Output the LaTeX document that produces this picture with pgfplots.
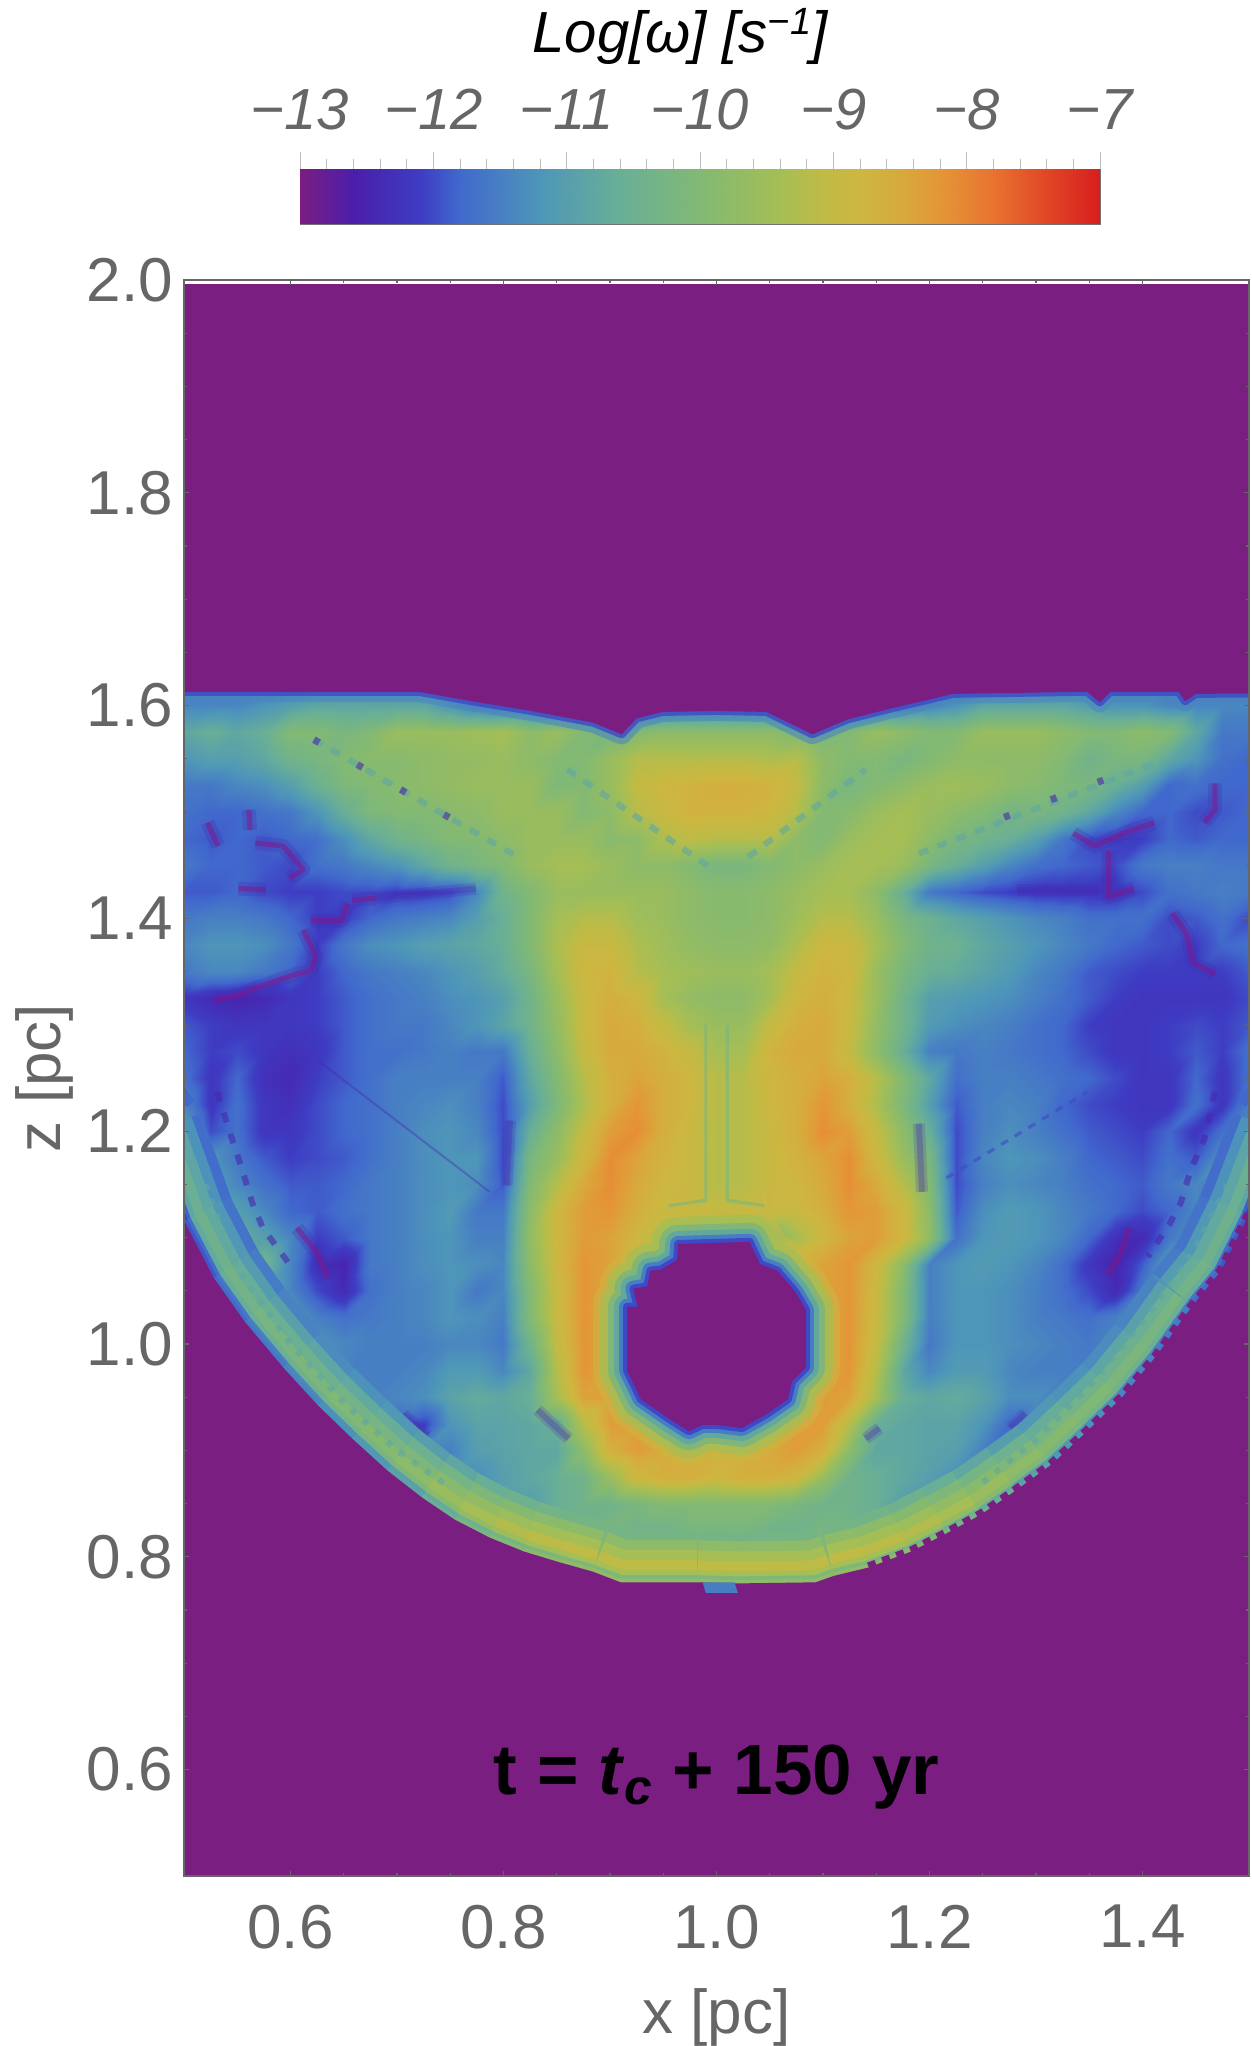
\documentclass[border=0pt]{standalone}
\usepackage{fontspec}
\setmainfont{Liberation Sans}
\usepackage{pgfplots}
\usepackage{pgfplotstable}
\pgfplotsset{compat=1.18}
\definecolor{bg}{RGB}{122,30,130}
\definecolor{streak}{RGB}{135,20,135}
\definecolor{indi}{RGB}{72,40,175}
\definecolor{tickgray}{gray}{0.4}
\definecolor{v9}{RGB}{62,60,195}
\definecolor{v10}{RGB}{63,72,198}
\definecolor{v14}{RGB}{71,125,195}
\definecolor{v16}{RGB}{75,135,190}
\definecolor{v22}{RGB}{96,167,162}
\definecolor{v28}{RGB}{122,182,127}
\definecolor{v36}{RGB}{165,190,85}
\definecolor{v41}{RGB}{200,185,67}

% Log w, stored as 10*(Log w + 13), 0 = -13 and 60 = -7
% one line per z, x = 0.5, 0.525, ... 1.5
\def\coords{}
\newcommand\R[2]{\foreach \v [count=\i from 0] in {#2} {%
  \pgfmathsetmacro\x{0.5+0.025*\i}\xdef\coords{\coords (\x,#1) [\v]}}}
\R{1.625}{12,12,12,12,12,12,12,12,12,12,12,12,12,12,12,12,12,12,12,12,12,12,12,12,12,12,12,12,12,12,12,12,12,12,12,12,12,12,12,12,12}
\R{1.6}{16,16,16,18,20,22,22,22,22,22,18,14,12,12,12,12,12,12,12,12,12,12,12,12,12,12,12,14,16,18,22,22,22,22,20,18,18,16,16,16,16}
\R{1.575}{22,24,22,24,30,30,28,30,34,34,34,35,36,32,34,30,28,30,32,32,32,32,32,30,28,30,34,32,30,30,34,34,34,32,30,30,32,30,22,14,14}
\R{1.55}{18,20,20,22,26,28,30,31,31,32,33,33,34,32,30,30,34,38,38,38,38,38,37,38,32,30,30,28,30,32,32,32,32,30,26,28,28,22,18,13,12}
\R{1.525}{14,14,16,17,20,25,29,30,31,32,33,34,34,34,29,30,34,40,42,43,44,44,43,40,32,28,30,32,34,35,34,32,31,29,28,24,20,12,13,12,12}
\R{1.5}{13,12,12,13,14,18,24,29,30,30,31,32,34,34,34,30,32,38,41,43,43,43,42,38,30,31,34,36,34,32,30,27,28,26,22,16,12,12,10,11,12}
\R{1.475}{12,11,12,11,12,13,17,22,26,28,30,30,32,34,34,34,31,32,37,39,38,38,38,32,30,34,36,36,32,28,26,24,20,14,10,9,9,12,11,12,12}
\R{1.45}{14,12,12,11,10,13,14,16,18,22,26,28,30,34,36,36,34,32,32,30,28,28,30,32,34,36,36,34,28,24,20,16,13,12,11,10,14,15,15,14,14}
\R{1.425}{11,11,12,10,9,9,10,10,9,9,10,16,26,30,34,34,34,34,34,32,31,31,32,34,36,36,32,24,14,12,10,9,8,8,8,8,10,13,14,15,14}
\R{1.4}{14,15,15,14,12,9,9,12,14,15,16,20,24,30,36,38,38,35,34,32,31,31,32,35,38,38,34,28,25,22,20,18,16,15,13,13,13,10,11,13,10}
\R{1.375}{16,18,18,17,14,9,14,17,18,20,21,22,24,30,37,41,41,37,35,33,32,32,33,37,42,41,36,30,26,25,22,20,18,16,14,12,11,10,9,12,13}
\R{1.35}{14,16,16,14,12,9,12,14,15,16,18,20,23,28,36,42,43,38,36,35,34,34,36,40,43,42,34,28,24,23,21,19,16,14,11,10,9,9,9,9,11}
\R{1.325}{8,6,5,6,8,9,11,13,14,15,17,18,20,26,34,41,44,42,36,33,32,32,36,42,44,41,34,26,20,19,18,17,15,13,11,9,8,8,8,8,10}
\R{1.3}{11,9,8,8,8,9,11,13,14,14,16,18,21,26,33,41,45,44,40,36,34,34,40,44,45,41,33,26,19,17,16,15,13,12,9,8,8,9,10,9,11}
\R{1.275}{12,9,10,8,7,8,11,13,13,14,15,14,14,24,32,40,45,45,43,40,36,36,43,45,45,40,32,24,15,14,15,14,13,12,10,8,8,9,11,9,13}
\R{1.25}{13,8,12,7,6,9,11,13,15,15,15,15,11,22,30,38,44,46,44,42,38,38,42,44,46,44,38,30,22,13,15,15,14,13,12,10,8,8,12,8,13}
\R{1.225}{16,8,13,8,7,10,12,13,15,16,17,15,10,20,29,37,44,48,44,42,38,38,42,44,48,44,37,29,20,11,15,16,15,12,10,9,8,8,13,8,15}
\R{1.2}{20,10,13,8,8,10,12,13,15,17,18,16,10,24,32,40,47,49,44,41,38,38,41,44,49,47,40,32,24,10,15,17,15,13,11,10,9,12,8,13,16}
\R{1.175}{22,18,14,11,9,10,11,13,15,17,18,18,10,28,34,42,49,46,43,41,38,38,41,43,46,49,42,34,28,10,16,18,17,15,12,11,10,13,11,18,16}
\R{1.15}{24,20,16,13,11,11,12,14,15,17,18,17,11,30,38,45,49,45,42,41,38,38,41,42,45,49,45,38,30,10,15,17,16,15,13,12,11,14,16,14,22}
\R{1.125}{26,22,20,16,12,11,13,14,15,17,19,14,14,32,42,47,48,44,41,41,40,40,41,41,44,48,47,42,32,11,17,19,18,16,14,12,10,12,16,22,24}
\R{1.1}{22,24,24,20,16,9,11,14,15,17,18,15,15,33,42,47,46,42,36,30,28,28,30,36,42,46,47,42,33,13,18,19,18,16,12,7,6,14,18,24,20}
\R{1.075}{14,12,24,26,16,7,5,14,15,17,18,17,16,32,42,48,46,44,44,44,44,44,44,44,46,48,42,32,15,18,19,18,16,13,8,5,11,20,20,14,12}
\R{1.05}{12,10,16,22,16,10,6,13,15,16,18,14,16,30,41,48,46,44,44,44,44,44,44,44,46,48,41,30,15,18,18,17,15,13,10,6,14,20,18,12,12}
\R{1.025}{12,12,14,18,20,15,13,14,15,16,18,17,15,30,41,48,46,44,44,44,44,44,44,44,46,48,41,30,15,18,18,17,15,14,13,15,18,16,14,12,12}
\R{1.0}{12,12,14,15,18,18,16,15,15,15,16,16,14,26,40,48,46,44,44,44,44,44,44,44,46,48,40,26,14,18,18,17,16,15,14,16,16,14,12,12,12}
\R{0.975}{12,12,12,14,15,16,15,15,15,16,19,19,16,22,38,48,46,44,44,44,44,44,44,44,46,48,38,22,16,19,19,16,15,15,15,15,14,12,12,12,12}
\R{0.95}{12,12,12,12,14,14,14,15,16,17,21,23,22,24,36,46,47,44,44,44,44,44,44,44,47,46,36,24,22,23,21,17,17,15,14,14,12,12,12,12,12}
\R{0.925}{12,12,12,12,12,12,14,15,12,9,18,21,21,22,24,38,47,47,44,44,44,44,44,47,47,38,24,22,21,21,18,12,15,14,12,12,12,12,12,12,12}
\R{0.9}{12,12,12,12,12,12,12,14,14,16,15,20,21,22,22,32,44,47,45,44,44,44,45,47,44,32,22,22,21,20,15,14,14,12,12,12,12,12,12,12,12}
\R{0.875}{14,14,14,14,14,14,14,14,14,14,16,17,20,22,24,26,34,42,44,44,42,44,44,42,34,26,24,22,20,17,16,14,14,14,14,14,14,14,14,14,14}
\R{0.85}{16,16,16,16,16,16,16,16,16,16,18,18,20,20,24,26,26,28,30,30,30,30,30,28,26,26,24,20,20,18,18,16,16,16,16,16,16,16,16,16,16}
\R{0.825}{24,24,24,24,24,24,24,24,24,24,24,24,24,24,24,26,28,26,26,28,28,28,26,26,28,26,24,24,24,24,24,24,24,24,24,24,24,24,24,24,24}
\R{0.8}{30,30,30,30,30,30,30,30,30,30,30,30,30,30,30,30,30,30,30,30,30,30,30,30,30,30,30,30,30,30,30,30,30,30,30,30,30,30,30,30,30}
\R{0.775}{30,30,30,30,30,30,30,30,30,30,30,30,30,30,30,30,30,30,30,30,30,30,30,30,30,30,30,30,30,30,30,30,30,30,30,30,30,30,30,30,30}
\newcommand\drawmesh[1]{\addplot[surf,shader=interp,mesh/cols=41,point meta=explicit,forget plot] coordinates {#1};}

% upper edge of the region
\pgfplotstableread{
x y
.4 2.1
.4 1.613
.72 1.613
.771 1.604
.826 1.595
.884 1.584
.911 1.573
.925 1.588
.949 1.594
1.0 1.595
1.047 1.594
1.09 1.573
1.123 1.587
1.167 1.598
1.222 1.611
1.348 1.613
1.36 1.603
1.37 1.613
1.434 1.613
1.44 1.604
1.45 1.611
1.6 1.612
1.6 2.1
}\topT
% lower edge, b = level of the shell behind it
\pgfplotstableread{
x y b
.4 .4 24
.4 1.3 24
.47 1.2 24
.5 1.116 25
.528 1.062 26
.557 1.021 27
.593 .978 28
.626 .942 29
.658 .911 30
.691 .881 31
.723 .856 33
.754 .835 35
.787 .818 37
.819 .805 38
.852 .795 39
.884 .786 39
.91 .776 39
.982 .776 39
1.021 .775 39
1.093 .776 39
1.11 .782 39
1.143 .79 39
1.183 .805 38
1.216 .822 37
1.249 .84 35
1.282 .863 33
1.315 .887 31
1.348 .918 30
1.381 .95 29
1.414 .99 28
1.447 1.036 27
1.474 1.069 26
1.5 1.122 25
1.53 1.2 24
1.6 1.3 24
1.6 .4 24
}\botT
\pgfplotstableread{
x y
1.143 .79
1.183 .805
1.216 .822
1.249 .84
1.282 .863
1.315 .887
1.348 .918
1.381 .95
1.414 .99
1.447 1.036
1.474 1.069
1.5 1.122
}\teethT
\pgfplotstableread{
x y
.916 1.005
.916 1.035
.926 1.035
.922 1.052
.935 1.054
.938 1.069
.948 1.070
.963 1.079
.964 1.094
1.031 1.096
1.041 1.075
1.057 1.069
1.074 1.049
1.084 1.032
1.084 .978
1.071 .965
1.067 .948
1.047 .934
1.024 .921
1.0 .924
.987 .924
.974 .918
.958 .928
.929 .948
.916 .975
}\holeT

\pgfplotsset{
  rb/.style={colormap={rainbow}{rgb255(0)=(122,30,130) rgb255(4)=(75,30,170) rgb255(9)=(62,60,195)
    rgb255(12)=(65,105,205) rgb255(18)=(78,150,185) rgb255(24)=(105,175,150) rgb255(30)=(130,185,115)
    rgb255(36)=(165,190,85) rgb255(39)=(190,187,70) rgb255(42)=(205,183,65) rgb255(45)=(215,170,60)
    rgb255(48)=(228,150,55) rgb255(52)=(232,115,48) rgb255(56)=(225,70,38) rgb255(60)=(215,30,30)}},
  sp/.style={line width=2.6pt,color=streak,opacity=.5,line join=round,forget plot},
  ib/.style={line width=3pt,color=indi,opacity=.3,line join=round,forget plot},
  halo/.style={line width=7pt,color=indi,opacity=.25,line join=round,forget plot},
  shell/.style={mesh,forget plot,line width=#1},
  ring/.style 2 args={draw=#2,fill=none,line width=#1,line join=round,forget plot},
  dots/.style={line width=3pt,color=#1,opacity=.6,forget plot},
}
\newcommand\Sp[1]{\addplot[halo] coordinates {#1};\addplot[sp] coordinates {#1};}
\newcommand\Ib[1]{\addplot[halo,line width=6pt,opacity=.2] coordinates {#1};\addplot[ib] coordinates {#1};}

\begin{document}
\begin{tikzpicture}
\useasboundingbox (0,0) rectangle (626pt,1023pt);

% colour bar
\begin{axis}[
  at={(150pt,911pt)},anchor=south west,scale only axis,width=400pt,height=27.5pt,
  rb,xmin=-13,xmax=-7,ymin=0,ymax=1,
  xtick={-13,...,-7},xticklabels={−13,−12,−11,−10,−9,−8,−7},
  minor x tick num=4,ytick=\empty,
  xtick pos=upper,xticklabel pos=upper,tick align=outside,
  major tick length=8.5pt,minor tick length=5pt,
  tick style={black!25,line width=.4pt},
  axis line style={black!55,line width=.4pt},
  xticklabel style={font=\fontsize{29}{29}\selectfont\itshape,text=tickgray,yshift=7.5pt},
]
\addplot[surf,shader=interp,mesh/cols=2,point meta=x] coordinates {(-13,0) (-7,0) (-13,1) (-7,1)};
\end{axis}
\node[anchor=base,font=\fontsize{29}{29}\selectfont\itshape] at (340pt,996.5pt) {Log[ω] [s\raisebox{9pt}{\fontsize{19}{19}\selectfont −1}]};

% main map
\begin{axis}[
  at={(92pt,85pt)},anchor=south west,scale only axis,width=532.5pt,height=798pt,
  rb,point meta min=0,point meta max=60,
  xmin=0.5,xmax=1.5,ymin=0.5,ymax=2.0,
  xtick={0.6,0.8,1.0,1.2,1.4},ytick={0.6,0.8,1.0,1.2,1.4,1.6,1.8,2.0},
  minor tick num=3,tick align=inside,tick pos=both,
  major tick length=2.5pt,minor tick length=1.4pt,
  tick style={tickgray,line width=.6pt},axis line style={tickgray,line width=.9pt},
  axis on top,
  /pgf/number format/fixed,/pgf/number format/fixed zerofill,/pgf/number format/precision=1,
  /pgf/number format/assume math mode=true,
  ticklabel style={font=\fontsize{31}{31}\selectfont,text=tickgray},
  xticklabel style={yshift=-11pt},yticklabel style={xshift=-2pt},
  label style={font=\fontsize{31}{31}\selectfont,text=tickgray},
  xlabel={x [pc]},ylabel={z [pc]},
  xlabel style={yshift=-13pt},ylabel style={yshift=0pt},
]
\addplot[fill=bg,draw=none,forget plot] coordinates {(0.4,0.4) (1.6,0.4) (1.6,2.1) (0.4,2.1)} -- cycle;
\expandafter\drawmesh\expandafter{\coords}

% dashed streaks of the wings
\addplot[dots=v22,dash pattern=on 5pt off 5pt] coordinates {(.622,1.568) (.813,1.458)};
\addplot[dots=v22,dash pattern=on 5pt off 5pt] coordinates {(.86,1.54) (.997,1.446)};
\addplot[dots=v22,dash pattern=on 5pt off 5pt] coordinates {(1.03,1.458) (1.14,1.54)};
\addplot[dots=v22,dash pattern=on 5pt off 5pt] coordinates {(1.19,1.461) (1.42,1.549)};
\addplot[dots=indi,dash pattern=on 3pt off 22pt,line width=3.5pt] coordinates {(.622,1.568) (.761,1.488)};
\addplot[dots=indi,dash pattern=on 3pt off 22pt,line width=3.5pt] coordinates {(1.27,1.495) (1.39,1.54)};
% thin lines round the centre
\addplot[dots=v28,line width=1.6pt] coordinates {(.99,1.30) (.99,1.135) (.955,1.13)};
\addplot[dots=v28,line width=1.6pt] coordinates {(1.01,1.30) (1.01,1.135) (1.045,1.13)};

% thin dark structures on top of the field
\Sp{(.567,1.471) (.593,1.468) (.612,1.446) (.599,1.438)}
\Sp{(.551,1.428) (.577,1.427)}
\Sp{(.658,1.417) (.680,1.419)}
\Sp{(.619,1.398) (.648,1.398) (.654,1.414)}
\Sp{(.612,1.389) (.624,1.364) (.619,1.351) (.603,1.347) (.580,1.339) (.551,1.328) (.528,1.323)}
\Sp{(.522,1.490) (.532,1.468)}
\Sp{(.561,1.502) (.562,1.483)}
\Sp{(1.335,1.480) (1.355,1.468) (1.382,1.480) (1.411,1.490)}
\Sp{(1.368,1.464) (1.368,1.420) (1.392,1.428)}
\Sp{(1.428,1.405) (1.441,1.386) (1.448,1.358) (1.468,1.348)}
\Sp{(1.468,1.527) (1.468,1.502) (1.458,1.490)}
\Sp{(1.388,1.109) (1.378,1.082) (1.367,1.065)}
\Sp{(.606,1.109) (.625,1.086) (.635,1.062)}
\Ib{(.680,1.419) (.774,1.428)}
\Ib{(1.282,1.427) (1.359,1.427)}
\Ib{(.806,1.210) (.803,1.149)}
\Ib{(1.190,1.207) (1.193,1.143)}
\Ib{(.706,.934) (.729,.914)}
\Ib{(.832,.938) (.861,.911)}
\Ib{(1.14,.911) (1.153,.921)}
\Ib{(1.276,.921) (1.29,.935)}
\addplot[ib,line width=1pt,opacity=.4] coordinates {(.625,1.267) (.787,1.143)};
\addplot[dots=v10,line width=1.6pt,dash pattern=on 4pt off 4pt] coordinates {(1.216,1.156) (1.348,1.237)};

% hole: rim rings round the outline, then the hole itself
\addplot[ring={34pt}{v41},opacity=.5] table {\holeT} -- cycle;
\addplot[ring={27pt}{v36},opacity=.8] table {\holeT} -- cycle;
\addplot[ring={19pt}{v28},opacity=.85] table {\holeT} -- cycle;
\addplot[ring={13pt}{v22},opacity=.9] table {\holeT} -- cycle;
\addplot[ring={8pt}{v14}] table {\holeT} -- cycle;
\addplot[ring={4pt}{v10}] table {\holeT} -- cycle;
\addplot[fill=bg,draw=none,forget plot] table {\holeT} -- cycle;

% shell along the lower edge, coloured by b
\addplot[shell=52pt,point meta=\thisrow{b}-12] table[x=x,y=y] {\botT};
\addplot[shell=42pt,point meta=\thisrow{b}-7] table[x=x,y=y] {\botT};
\addplot[shell=32pt,point meta=\thisrow{b}-3] table[x=x,y=y] {\botT};
\addplot[shell=22pt,point meta=\thisrow{b}] table[x=x,y=y] {\botT};
\addplot[shell=12pt,point meta=\thisrow{b}-3] table[x=x,y=y] {\botT};
\addplot[dots=v22,dash pattern=on 3pt off 5pt] coordinates {(.52,1.15) (.55,1.07) (.6,1.00) (.65,.945) (.7,.9) (.75,.865)};
\addplot[dots=v22,dash pattern=on 3pt off 5pt] coordinates {(1.25,.87) (1.3,.91) (1.35,.96) (1.4,1.02) (1.45,1.09) (1.48,1.15)};
\addplot[dots=indi,dash pattern=on 5pt off 6pt] coordinates {(.531,1.237) (.544,1.196) (.554,1.166) (.564,1.133) (.574,1.109) (.599,1.075)};
\addplot[dots=indi,dash pattern=on 5pt off 6pt] coordinates {(1.468,1.237) (1.458,1.193) (1.445,1.163) (1.436,1.133) (1.425,1.112) (1.405,1.082)};
\addplot[shell=7pt,point meta=1.2*\thisrow{b}-18] table[x=x,y=y] {\botT};
\addplot[shell=3.5pt,point meta=1.6*\thisrow{b}-30] table[x=x,y=y] {\botT};
\addplot[fill=bg,draw=none,forget plot] table[x=x,y=y] {\botT} -- cycle;
\addplot[draw=bg,line width=5pt,dash pattern=on 4pt off 3.5pt,forget plot] table {\teethT};
\addplot[fill=v14,draw=none,forget plot] coordinates {(.987,.776) (1.017,.776) (1.02,.766) (.99,.766)} -- cycle;

% upper edge
\addplot[draw=v16,line width=10pt,opacity=.6,line join=round,forget plot] table {\topT};
\addplot[draw=v10,line width=4pt,opacity=.8,line join=round,forget plot] table {\topT};
\addplot[fill=bg,draw=none,forget plot] table {\topT} -- cycle;
\addplot[fill=white,draw=none,forget plot] coordinates {(0.5,1.996) (1.5,1.996) (1.5,2.0) (0.5,2.0)} -- cycle;

\node[font=\fontsize{35.5}{35.5}\selectfont\bfseries] at (axis cs:1.0,0.593) {t = \textit{t}\textsubscript{\textit{c}} + 150 yr};
\end{axis}
\end{tikzpicture}
\end{document}
